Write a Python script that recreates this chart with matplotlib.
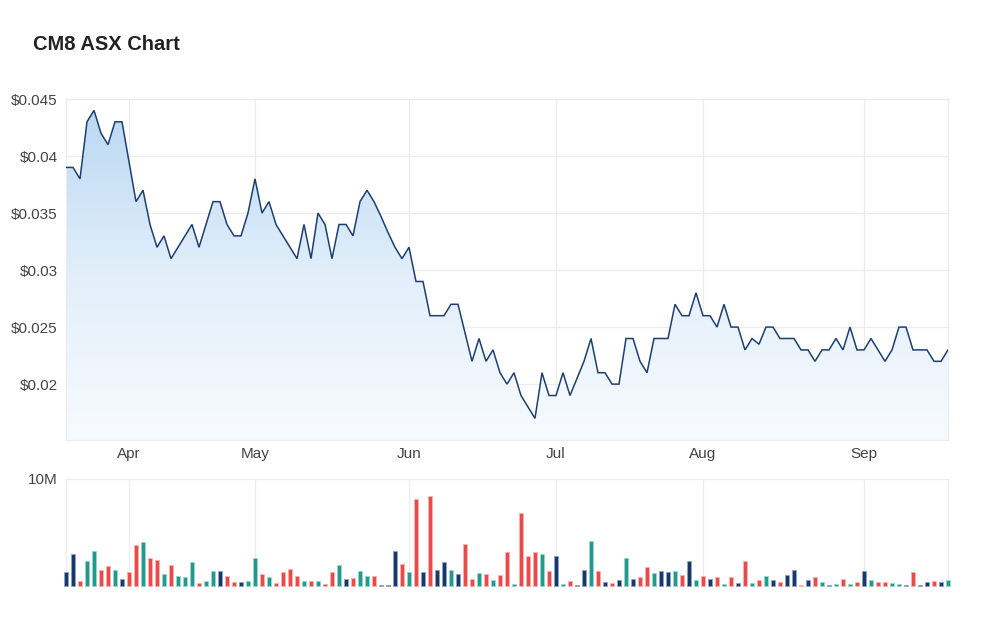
import numpy as np
import matplotlib
matplotlib.use("Agg")
import matplotlib.pyplot as plt
from matplotlib.colors import LinearSegmentedColormap

# ---------------- data ----------------
title = "CM8 ASX Chart"

close = [
    0.039, 0.039, 0.038, 0.043, 0.044, 0.042, 0.041, 0.043, 0.043, 0.0395,
    0.036, 0.037, 0.034, 0.032, 0.033, 0.031, 0.032, 0.033, 0.034, 0.032,
    0.034, 0.036, 0.036, 0.034, 0.033, 0.033, 0.035, 0.038, 0.035, 0.036,
    0.034, 0.033, 0.032, 0.031, 0.034, 0.031, 0.035, 0.034, 0.031, 0.034,
    0.034, 0.033, 0.036, 0.037, 0.036, 0.0347, 0.0333, 0.032, 0.031, 0.032,
    0.029, 0.029, 0.026, 0.026, 0.026, 0.027, 0.027, 0.0245, 0.022, 0.024,
    0.022, 0.023, 0.021, 0.020, 0.021, 0.019, 0.018, 0.017, 0.021, 0.019,
    0.019, 0.021, 0.019, 0.0205, 0.022, 0.024, 0.021, 0.021, 0.020, 0.020,
    0.024, 0.024, 0.022, 0.021, 0.024, 0.024, 0.024, 0.027, 0.026, 0.026,
    0.028, 0.026, 0.026, 0.025, 0.027, 0.025, 0.025, 0.023, 0.024, 0.0235,
    0.025, 0.025, 0.024, 0.024, 0.024, 0.023, 0.023, 0.022, 0.023, 0.023,
    0.024, 0.023, 0.025, 0.023, 0.023, 0.024, 0.023, 0.022, 0.023, 0.025,
    0.025, 0.023, 0.023, 0.023, 0.022, 0.022, 0.023,
]

volume_m = [
    1.28, 2.96, 0.47, 2.37, 3.27, 1.50, 1.87, 1.50, 0.65, 1.28,
    3.86, 4.08, 2.59, 2.46, 1.15, 1.96, 0.97, 0.87, 2.24, 0.28,
    0.47, 1.37, 1.37, 0.97, 0.34, 0.34, 0.47, 2.65, 1.15, 0.84,
    0.25, 1.28, 1.56, 0.97, 0.47, 0.47, 0.47, 0.19, 1.28, 1.96,
    0.65, 0.78, 1.40, 0.97, 0.97, 0.06, 0.06, 3.27, 2.06, 1.28,
    8.16, 1.34, 8.38, 1.50, 2.24, 1.50, 1.09, 3.96, 0.69, 1.25,
    1.15, 0.56, 1.06, 3.18, 0.19, 6.86, 2.78, 3.18, 2.96, 1.37,
    2.78, 0.19, 0.47, 0.06, 1.50, 4.18, 1.37, 0.34, 0.25, 0.56,
    2.65, 0.65, 0.84, 1.75, 1.25, 1.37, 1.28, 1.37, 1.06, 2.37,
    0.56, 0.97, 0.65, 0.84, 0.19, 0.84, 0.25, 2.37, 0.25, 0.56,
    0.97, 0.56, 0.34, 1.06, 1.50, 0.06, 0.56, 0.87, 0.34, 0.06,
    0.19, 0.65, 0.19, 0.34, 1.37, 0.56, 0.34, 0.34, 0.25, 0.16,
    0.06, 1.28, 0.06, 0.34, 0.47, 0.34, 0.56,
]

# u = up (teal), d = down (red), f = flat (navy); one letter per bar
direction = "".join([
    "ffduuddufd", "dudduduuud", "uufddfuudu", "ddddududdu", "fduudfffdu",
    "dfdffufddu", "duddudddud", "fudffudfdf", "ufdduffudf", "udfdudfdud",
    "ufdffdfduf", "ududfudduu", "fdffdfu",
])

month_labels = ["Apr", "May", "Jun", "Jul", "Aug", "Sep"]
month_index = [9, 27, 49, 70, 91, 114]

price_ticks = [0.02, 0.025, 0.03, 0.035, 0.04, 0.045]
price_tick_labels = ["$0.02", "$0.025", "$0.03", "$0.035", "$0.04", "$0.045"]

# ---------------- style ----------------
plt.rcParams["font.family"] = ["Liberation Sans", "DejaVu Sans"]
LINE = "#1d3f70"
GRID = "#ececec"
TXT = "#444444"
COLORS = {"u": "#22998b", "d": "#ea4a48", "f": "#16386a"}
EDGES = {"u": "#9fd6cf", "d": "#f7b3b2", "f": "#8fa3c4"}

n = len(close)
x = np.arange(n)

fig = plt.figure(figsize=(10, 6.17), dpi=100)
fig.patch.set_facecolor("white")

W = 1000.0
H = 617.0
ax = fig.add_axes([66 / W, 1 - 440 / H, 882 / W, 341 / H])
axv = fig.add_axes([66 / W, 1 - 586 / H, 882 / W, 107 / H])

# ---- price panel ----
ymin, ymax = 0.0151, 0.045
ax.set_xlim(0, n - 1)
ax.set_ylim(ymin, ymax)

poly = ax.fill_between(x, close, ymin, facecolor="none", edgecolor="none")
cmap = LinearSegmentedColormap.from_list("g", ["#f8fbfe", "#e1eefa", "#b8d7f2"])
grad = np.linspace(0, 1, 256).reshape(-1, 1)
im = ax.imshow(grad, extent=[0, n - 1, ymin, ymax], origin="lower",
               aspect="auto", cmap=cmap, zorder=1, interpolation="bicubic")
im.set_clip_path(poly.get_paths()[0], transform=ax.transData)
ax.plot(x, close, color=LINE, lw=1.1, zorder=3, solid_joinstyle="miter")

ax.set_yticks(price_ticks)
ax.set_yticklabels(price_tick_labels)
ax.set_xticks(month_index)
ax.set_xticklabels(month_labels)
ax.tick_params(axis="both", length=0, labelsize=11, colors=TXT)
ax.tick_params(axis="y", pad=6)
ax.tick_params(axis="x", pad=5)
ax.grid(True, color=GRID, lw=0.9, zorder=0)
ax.set_axisbelow(True)
for s in ax.spines.values():
    s.set_color(GRID)
    s.set_linewidth(0.9)

# ---- volume panel ----
vol = np.array(volume_m) * 1e6
cols = [COLORS[c] for c in direction]
eds = [EDGES[c] for c in direction]
axv.bar(x, vol, width=0.68, color=cols, edgecolor=eds, linewidth=0.6,
        zorder=3, clip_on=False)
axv.set_xlim(0, n - 1)
axv.set_ylim(0, 10e6)
axv.set_yticks([10e6])
axv.set_yticklabels(["10M"])
axv.set_xticks(month_index)
axv.set_xticklabels([])
axv.tick_params(axis="both", length=0, labelsize=11, colors=TXT)
axv.tick_params(axis="y", pad=6)
axv.grid(True, axis="x", color=GRID, lw=0.9, zorder=0)
axv.set_axisbelow(True)
for k, s in axv.spines.items():
    s.set_color(GRID)
    s.set_linewidth(0.9)
axv.spines["bottom"].set_visible(False)

fig.text(33 / W, 1 - 44 / H, title, fontsize=14.5, fontweight="bold",
         color="#222222", ha="left", va="center")

fig.savefig("out.png", dpi=100, facecolor="white")
